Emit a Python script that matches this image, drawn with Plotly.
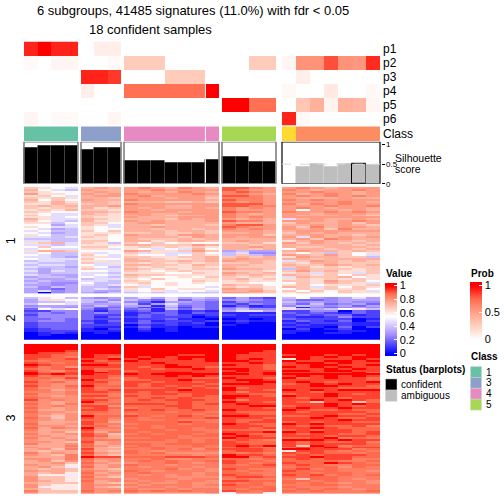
import numpy as np
import plotly.graph_objects as go

SIZE = 504
FONT = "Liberation Sans"

# ---------- data ----------
group_names = ["1", "3", "4", "5", "2"]
group_sizes = [4, 3, 7, 4, 7]
class_labels = ["1"]*4 + ["3"]*3 + ["4"]*7 + ["5"]*4 + ["6"] + ["2"]*6
prob_names = ["p1", "p2", "p3", "p4", "p5", "p6"]
p1 = [.92,1,.92,.92, 0,.09,.09, 0,0,0,0,0,0,0, 0,0,0,0, 0,0,0,0,0,0,0]
p2 = [.03,0,.05,.05, 0,0,.03, .28,.28,.28,0,0,0,0, 0,0,.28,.28, .05,.57,.57,.82,.57,.55,.9]
p3 = [0,0,0,0, .92,.92,.87, 0,0,0,.28,.28,.28,0, 0,0,0,0, 0,.09,0,0,0,0,0]
p4 = [0,0,0,0, .09,0,0, .73,.73,.73,.73,.73,.73,1, 0,0,0,0, .04,0,0,.12,0,0,.04]
p5 = [0,0,0,0, 0,0,0, 0,0,0,0,0,0,0, 1,1,.73,.73, 0,.31,.42,.06,.42,.4,.05]
p6 = [.05,0,.03,.03, 0,0,.05, 0,0,0,0,0,0,0, 0,0,0,0, .92,.04,0,0,0,0,0]
silhouette = [.93,.965,.965,.965, .855,.905,.905, .58,.58,.58,.53,.53,.53,.605,
              .68,.68,.555,.555, 0,.43,.505,.43,.505,.51,.48]
selected_sample = 23
silhouette_cut = 0.5

# each row: one code per sample, groups separated by spaces; the level lists give the value of a code
hex_levels = [0, .07, .13, .2, .27, .33, .4, .47, .56, .63, .69, .74, .79, .84, .91, 1]
block3_levels = [0, .07, .13, .2, .27, .33, .4, .5, .6, .7, .76, .81, .85, .89, .93, 1]

block1_rows = """
a987 bcb cdcbdcb eedc cdcbccc
b876 cbb ccdcccc edcc dcbccdc
a988 bcb cbcbdcb dedc ccdccbc
c998 cbc dccccdc ddcb dbcdcbc
9a87 bcc cdbcccb eedc cdcdcdc
a9a9 bba cccbcca dddc cbbbcbb
b8a8 cbb dcccccb eddc dcdcccc
a9b9 bba bbbaaba dcdc ccccdcb
99ba aba dcccccc eeec dbdcdcc
abab bbc cccbbcc eedd cccdccd
a9aa b9a cbcbbcb dcdc cdcbccb
9a9b aa9 ccbcccc dccc c8ccbcb
a988 bba dcccbcc eddc dccdcdc
9877 ba9 ccbbccc dcbc ccbcccb
a877 aa9 bcbabbc dccc cbbbcba
9978 a99 cbbbccc dcdc ccccccc
b977 ba9 bbbacbc cbcb 7bcbbcb
a876 b99 cbcbbbc eddb cccbcdc
9968 aa8 bccbbbb cbbb acbbcac
8857 a97 bbabbba deec bbcbcba
9877 987 bbcbbbb edcc cadbccb
8756 988 bbabbab dcdc cbcadbb
7866 a8a bbbabba cccb bcccccc
8756 999 aabaaba bbcb acbcbbb
9866 9a8 cbbaccb ccca bbcbbab
7767 a98 bbbbacb cbcc c7cbcbc
6666 998 baaabab bbbb bcadcbb
7766 aa8 bb9abba bcbb 9bcbbab
9ab7 a96 a8a8988 aab9 cacbaba
7767 999 bbaaacb bbab bbbbbab
8a88 aa8 9a9a9a9 bbcb baabbba
7877 997 98787b8 bbab 8bbabab
9bba 888 cb99aca 5655 bcbbaba
7866 978 a7977a8 6744 a8a6a89
8766 a87 98878a9 6a65 cbaca87
7765 997 aa99aab abab 9cbbaa6
8777 a88 baa99ab bcbb bbabbbb
6776 997 bbaabab cbba 7acbaba
7666 a79 a9a9a9a aaba a9bbaaa
6776 877 bbaa9ba bbaa baacbab
7665 986 a9a99a9 baaa ab9a9aa
6566 a77 ba9a9aa cbba 6baaa9a
7576 887 a989a99 aaa9 acab99a
6566 776 99988a9 cbab 9a7a97a
7655 787 baa9999 baba ba9a8a9
5665 876 a98898a a9a9 7baab89
6556 677 98a8899 ab9a 9a9a9a9
5655 776 a9888a9 9a99 aa9caa8
6544 866 9a89898 9988 8a9ba97
5545 767 8989888 baa8 9a8999a
6465 665 a788887 a9a9 ba7a8a9
5435 676 98a8998 cbb9 8a9a9a8
5745 655 7897887 bbca a8a8a97
5045 546 6767766 ccba 9a98a99
""".split("\n")[1:-1]

block2_rows = """
6986 545 5757565 3532 6854575
5798 664 6437354 4543 5334555
5667 646 4315543 2433 6454544
6887 555 6257443 3243 5363453
4555 464 5516343 1312 4654535
5654 533 4235243 3422 7143454
3878 424 3416353 4644 9656896
2244 313 2313121 5775 2244032
3434 343 1233132 1111 3232132
2444 322 1323212 2122 2323312
3444 313 2322201 1111 2112422
3343 322 1223110 0101 3222201
3443 213 1312212 1211 1321302
2333 312 2322120 0100 2122211
2333 222 0212110 1000 1211211
2333 211 1311011 0000 2110302
1233 102 0201000 0000 0201200
1222 111 0101000 0000 1100110
0121 010 0000000 0000 1001100
0100 000 0000000 0000 0000000
0000 000 0000000 0000 0000000
0000 000 0000000 0000 0000000
""".split("\n")[1:-1]

block3_rows = """
ffff fff fffffff ffff fffffff
ffff fff fffffff ffff fffffff
ffff fff fffffff ffff fffffff
fffe fff fffffff fffe fffffff
feed fff fffffff ffee fffffff
eedd fee ffffeef feee effefef
eedc fed fefefff feee ffefeff
edde eef efeefef fefe 8feeefe
dcdd fde feeeeef ffee feeffef
edcd eed eefeeee eefe effefee
fedd ffe eeefeee feed eeffeef
ecdb eee edeffed eeed fefefee
dcde edd eedeefe ffed eeefefe
ecbd fde deeeeee efee ffeffee
fdde ffe eeeffee feef eeeeefd
fefe fee fefffff ffef fffffff
ecdc eed eeefefe eeee efefefe
ddce eec deeeedd feed fdefeed
dcbc fdd ddeefee effe eeeeeed
ecdb eec eedeede eeff efedeef
dcbb edc edeeeed fffe defefee
ecbd fdd ededede eeee eeffeed
dbbc ecc dddeded fdee eeeeddd
dcab ede eeeefee feed fefefff
ccbc eed ededeee ecee eedeeee
dbbc ddc ddeedee eedd deefede
cbab eec edddded ffed feefeee
dcbb dcd ddededd feee edeedee
ebcb eec dedeeed ecee eefefed
cbab fdc ddddedd feed ed9ee9d
dbac dcd eeedede efee eeefefe
cbcb eeb dddeedd eeff deefede
dbab ded cdddedd eeed efeefee
caab eec ededded feee feddedd
dbba ddc dddcddc eddd edeeeed
cbab dcc cddddcd eedd eeeedde
ca9b fdd edcdedc ffee ddefeed
db9b edc dcdddde eeed eefedde
cbab ddb dccdccc edde eeeefee
caaa eda ddddedc edee dedeedd
daab ecc cdddcdd fedd fefeeee
cbba ddb ddcdddd eeed ededdec
dacb fcc cdcddcd eede eefeddd
caaa ebb dddcdcc dddc dedeedd
bab9 dac dcddddc eeef fefeede
caab ec9 cdcddcd fedd edeedde
bbaa eda ddddcdd efed eeedeed
caba dba ccddccc feee ddefcdc
baab dcc dddcdcd dedc fffefee
bba9 eab ccccdcd eddd ededdec
caab dab ddcdddd eedd edeeeed
aaac dba cdcccdc efef e9fecdd
baab ca9 dcdcccc dedc deefdee
ab9c eaa ccdcdbd eeed ffeeecd
a9aa da9 dcbcccc deed 8eedcdc
caba eba dcdbbbb dcdc ededdcd
ba9c da9 cccccbc feed dedeeed
aaac fee dddeeed ffde eefeedd
bbac dbb ccdbbcc ddcd dedeecc
ab9b cab cdcdccd eddc ddddccd
aab9 dba bccdcbc edcd eddfedc
baa8 cab dccbccc dcde dedccdd
ab97 dab cbcccbc dddd cdddbdc
a9a9 ba9 cccdbcb edcc decdccc
baa9 cba dcbcccb dcdc edddccb
a9a8 dab cdcccbc ddcc ddcddcc
a887 cba cbcbcbc eddc edecdcd
b998 da9 cccbbbb deed ddddccc
b998 cbb bcccbcc cdcc c9ddcbc
ba98 dab cbcbccb eedd ddcdccb
a999 ca9 bcbbcbb dcdc dcdcbcb
b988 cbb cbcccbc eddc ccddccc
b888 ca9 bccbcbb ddcd dcccbcc
a988 cbb cbbcbcc dcdd cdcdcbc
c999 dbc dcdcdcc edcd dcdcccd
b999 cbb cbbbbbc 7cc7 ccccccc
""".split("\n")[1:-1]

class_colors = {"1": "#66C2A5", "3": "#8DA0CB", "4": "#E78AC3", "5": "#A6D854",
                "6": "#FFD92F", "2": "#FC8D62"}
legend_classes = ["1", "3", "4", "5"]
status_items = [("confident", "#000000"), ("ambiguous", "#BEBEBE")]
value_ticks = [0, .2, .4, .6, .8, 1]
prob_ticks = [0, .5, 1]
sil_ticks = [0, .5, 1]

# ---------- layout (pixel positions of the panels) ----------
group_px = [(24, 78), (81, 121), (124, 219), (222, 276), (282, 380)]
edges = [np.linspace(a, b, n + 1) for (a, b), n in zip(group_px, group_sizes)]
all_left = np.concatenate([e[:-1] for e in edges])
all_right = np.concatenate([e[1:] for e in edges])
centers = (all_left + all_right) / 2
widths = all_right - all_left
group_slices = np.cumsum([0] + group_sizes)


def py(v):
    return 1 - v / SIZE


def dom(top, bottom):
    return [py(bottom), py(top)]


def parse(rows, levels):
    return np.array([[levels[int(c, 16)] for c in r.replace(" ", "")] for r in rows])


def scale(points, lo, hi):
    return [[(v - lo) / (hi - lo), c] for v, c in points]


V_MIN, V_MAX = -0.03, 1.044
P_MIN, P_MAX = 0, 1.07
value_scale = scale([(V_MIN, "#0000FF"), (0, "#0000FF"), (.275, "#A08CFF"), (.55, "#FFFFFF"),
                     (.775, "#FFA28B"), (.89, "#FF6A4C"), (1, "#FF0000"), (V_MAX, "#FF0000")], V_MIN, V_MAX)
prob_scale = scale([(0, "#FFFFFF"), (.25, "#FFD1C1"), (.5, "#FFA28B"), (.75, "#FF6C50"),
                    (1, "#FF0000"), (P_MAX, "#FF0000")], P_MIN, P_MAX)

fig = go.Figure()

# probability annotation rows
prob = np.array([p1, p2, p3, p4, p5, p6])
for g, e in enumerate(edges):
    s = prob[:, group_slices[g]:group_slices[g + 1]]
    fig.add_trace(go.Heatmap(x=e, y=np.arange(len(prob_names) + 1), z=s, coloraxis="coloraxis2",
                             yaxis="y2", hoverinfo="skip"))

# class row
fig.add_trace(go.Bar(x=centers, y=[1] * len(class_labels), width=widths, yaxis="y3",
                     marker=dict(color=[class_colors[c] for c in class_labels], line_width=0),
                     hoverinfo="skip"))

# silhouette bars
bar_colors = ["#000000"] * group_slices[4] + ["#BEBEBE"] * group_sizes[4]
fig.add_trace(go.Bar(x=centers, y=silhouette, width=widths, yaxis="y4",
                     marker=dict(color=bar_colors,
                                 line=dict(color=["#000000" if i == selected_sample else "rgba(0,0,0,0)"
                                                  for i in range(len(silhouette))], width=1)),
                     hoverinfo="skip"))

# main heatmap blocks
blocks = [(block1_rows, hex_levels, "y5", 188, 296), (block2_rows, hex_levels, "y6", 299.3, 343.3),
          (block3_rows, block3_levels, "y7", 347, 498.7)]
for rows, levels, ax, _, _ in blocks:
    z = parse(rows, levels)
    for g, e in enumerate(edges):
        fig.add_trace(go.Heatmap(x=e, y=np.arange(len(rows) + 1), yaxis=ax, coloraxis="coloraxis",
                                 z=z[:, group_slices[g]:group_slices[g + 1]], hoverinfo="skip"))

hidden = dict(visible=False, fixedrange=True)
layout = dict(
    width=SIZE, height=SIZE, autosize=False, paper_bgcolor="white", plot_bgcolor="rgba(0,0,0,0)",
    margin=dict(l=0, r=0, t=0, b=0), showlegend=False, barmode="overlay", bargap=0,
    xaxis=dict(range=[0, SIZE], domain=[0, 1], **hidden),
    yaxis2=dict(range=[len(prob_names), 0], domain=dom(41, 126), anchor="x", **hidden),
    yaxis3=dict(range=[0, 1], domain=dom(127, 142), anchor="x", **hidden),
    yaxis4=dict(range=[0, 1.0705], domain=dom(142.5, 185), anchor="free", position=380.5 / SIZE,
                side="right", tickvals=sil_ticks, ticktext=["0", "0.5", "1"], ticks="outside",
                ticklen=3, tickwidth=1, tickcolor="#000", showgrid=False, zeroline=False,
                showline=False, fixedrange=True, tickfont=dict(family=FONT, size=8, color="#000")),
    coloraxis=dict(colorscale=value_scale, cmin=V_MIN, cmax=V_MAX,
                   colorbar=dict(x=385 / SIZE, xanchor="left", xpad=0, ypad=0, y=py(285), yanchor="top",
                                 thickness=12, thicknessmode="pixels", len=72.7, lenmode="pixels",
                                 outlinewidth=0, ticks="inside", ticklen=3, tickcolor="white",
                                 tickvals=value_ticks, ticktext=["0", "0.2", "0.4", "0.6", "0.8", "1"],
                                 tickfont=dict(family=FONT, size=11, color="#000"))),
    coloraxis2=dict(colorscale=prob_scale, cmin=P_MIN, cmax=P_MAX,
                    colorbar=dict(x=470 / SIZE, xanchor="left", xpad=0, ypad=0, y=py(284), yanchor="top",
                                  thickness=12, thicknessmode="pixels", len=58, lenmode="pixels",
                                  outlinewidth=0, ticks="inside", ticklen=3, tickcolor="white",
                                  tickvals=prob_ticks, ticktext=["0", "0.5", "1"],
                                  tickfont=dict(family=FONT, size=11, color="#000"))),
)
for (rows, _, ax, top, bottom) in blocks:
    layout["yaxis" + ax[1:]] = dict(range=[len(rows), 0], domain=dom(top, bottom), anchor="x", **hidden)
fig.update_layout(**layout)


def text(s, x, y, size=12, bold=False, anchor="left", angle=0):
    fig.add_annotation(text=f"<b>{s}</b>" if bold else s, x=x / SIZE, y=py(y), xref="paper", yref="paper",
                       xanchor=anchor, yanchor="middle", showarrow=False, textangle=angle, borderpad=0,
                       font=dict(family=FONT, size=size, color="#000"))


text("6 subgroups, 41485 signatures (11.0%) with fdr &lt; 0.05", 193, 10, 13, anchor="center")
text("18 confident samples", 150, 29, 13, anchor="center")
for i, name in enumerate(prob_names):
    text(name, 382, 49 + i * 14, 12)
text("Class", 382, 135, 12)
text("Silhouette", 393.5, 159, 10.5)
text("score", 393.5, 170, 10.5)
for lbl, y in zip(["1", "2", "3"], [242.5, 320.7, 421.7]):
    text(lbl, 10.7, y, 12.5, anchor="center", angle=-90)
text("Value", 384.5, 276, 10, bold=True)
text("Prob", 469.5, 276, 10, bold=True)
text("Class", 469.5, 360, 10, bold=True)
text("Status (barplots)", 384.5, 373, 10, bold=True)

# frames round the silhouette panels, 0.5 cut, sample divider
for i, (a, b) in enumerate(group_px):
    last = i == len(group_px) - 1
    fig.add_shape(type="rect", x0=a, x1=b, y0=0, y1=1.0705, xref="x", yref="y4", layer="above",
                  line=dict(color="#000000" if last else "#777777", width=1.2 if last else 1.5))
fig.add_shape(type="line", x0=group_px[4][0], x1=group_px[4][1], y0=silhouette_cut, y1=silhouette_cut,
              xref="x", yref="y4", line=dict(color="#D9D9D9", width=1, dash="dash"), layer="above")
x_div = float(edges[2][-2])
fig.add_shape(type="line", x0=x_div, x1=x_div, y0=py(41), y1=py(184), xref="x", yref="paper",
              line=dict(color="white", width=1), layer="above")


def swatch(x0, x1, y0, y1, color):
    fig.add_shape(type="rect", x0=x0 / SIZE, x1=x1 / SIZE, y0=py(y0), y1=py(y1), xref="paper", yref="paper",
                  fillcolor=color, line=dict(color="#D0D0D0", width=0.5))


for i, c in enumerate(legend_classes):
    top = 370 + i * 11
    swatch(470.5, 481.5, top, top + 11, class_colors[c])
    text(c, 484.5, top + 5.5, 10)
for i, (lbl, color) in enumerate(status_items):
    top = 382.5 + i * 11.3
    swatch(385.5, 397, top, top + 11.3, color)
    text(lbl, 399.5, top + 5.7, 10)

fig.write_html("out.html", config={"displayModeBar": False},
               post_script="document.body.style.margin='0';")
